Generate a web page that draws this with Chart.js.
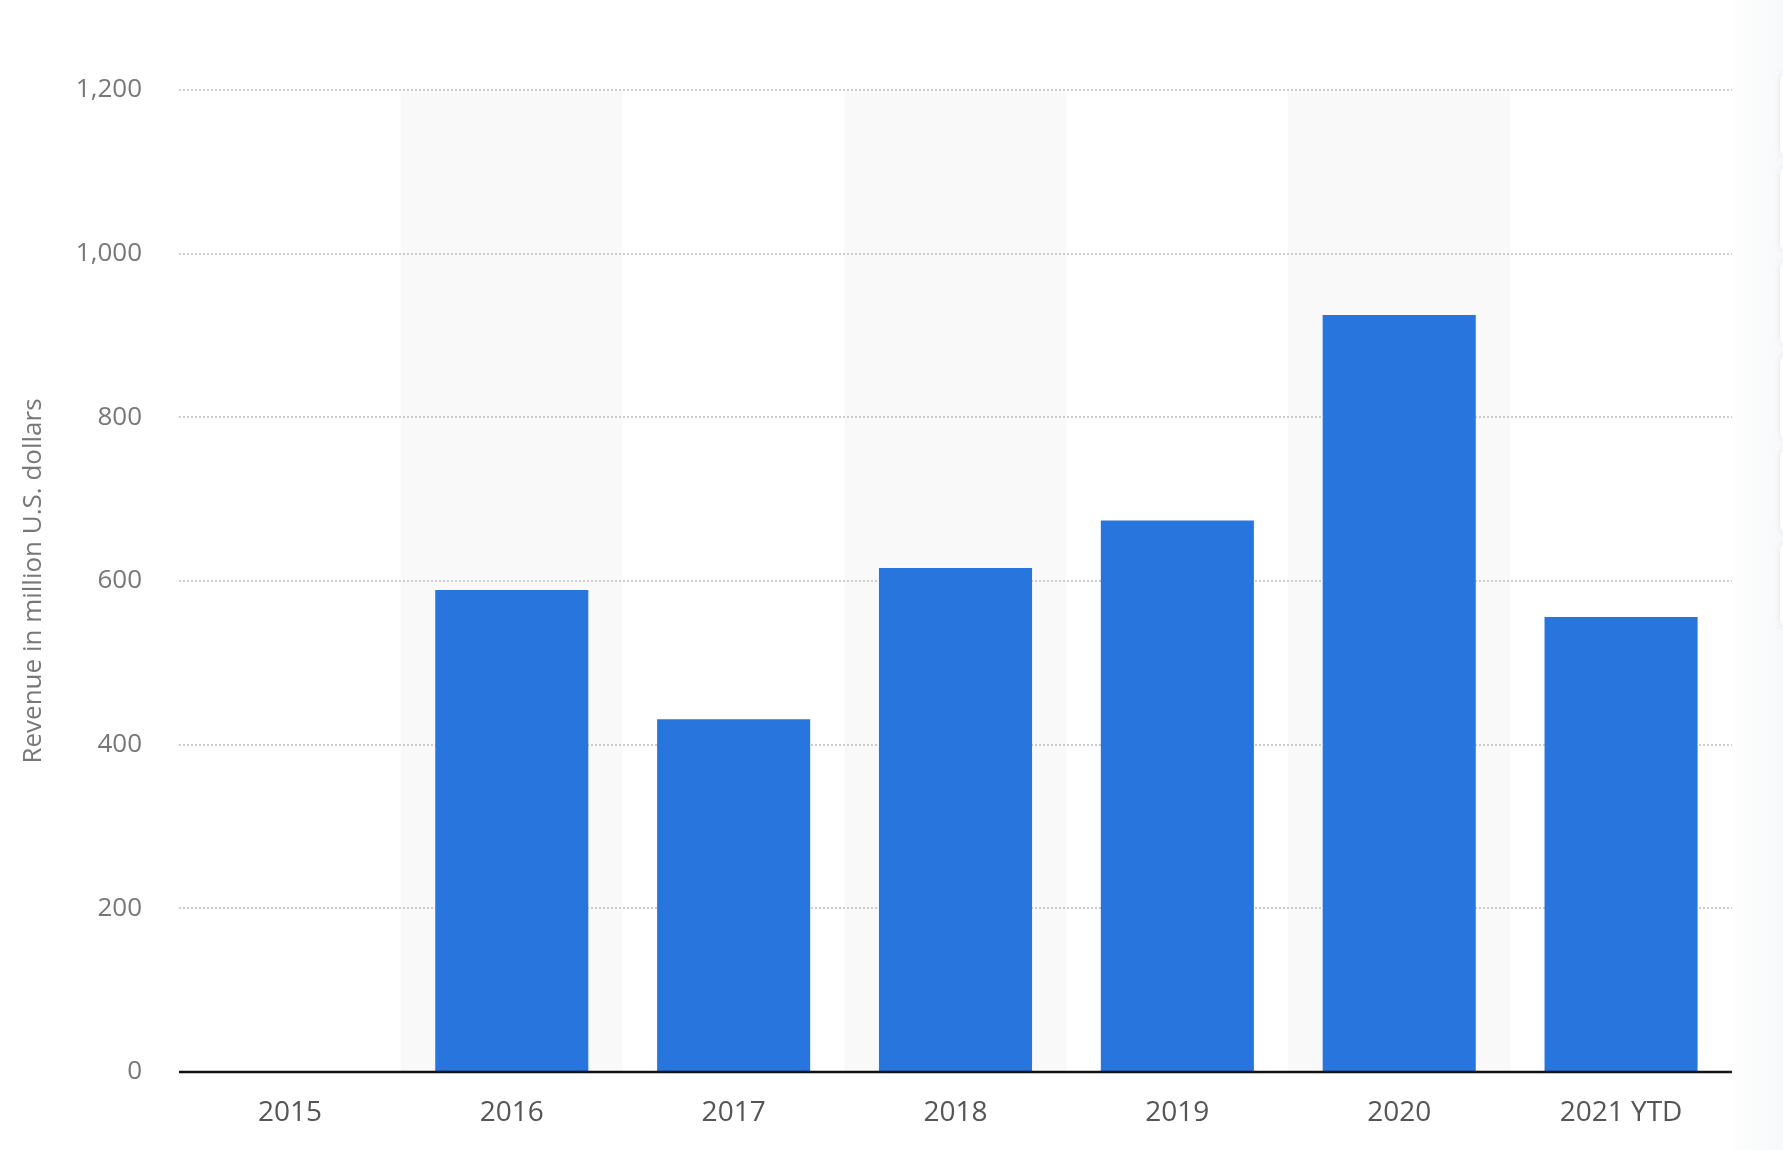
<!DOCTYPE html>
<html>
<head>
<meta charset="utf-8">
<script src="https://cdn.jsdelivr.net/npm/chart.js@4"></script>
<style>
  html, body { margin: 0; padding: 0; background: #fff; }
  #wrap { position: relative; width: 1783px; height: 1150px; overflow: hidden; }
  #shade { position: absolute; left: 1722px; top: 0; width: 61px; height: 1150px;
           background: linear-gradient(to right, rgba(230,233,238,0) 0%, rgba(230,233,238,0.3) 100%); pointer-events: none; }
  .btn { position: absolute; left: 1779px; width: 30px; height: 84px; background: #fff;
         border: 1px solid #eceef1; border-radius: 8px; box-shadow: 0 0 6px rgba(0,0,0,0.05); }
</style>
</head>
<body>
<div id="wrap">
  <canvas id="c" width="1783" height="1150"></canvas>
  <div id="shade"></div>
  <div class="btn" style="top:72px"></div>
  <div class="btn" style="top:166px"></div>
  <div class="btn" style="top:260px"></div>
  <div class="btn" style="top:354px"></div>
  <div class="btn" style="top:448px"></div>
  <div class="btn" style="top:542px"></div>
</div>
<script>
const categories = ["2015", "2016", "2017", "2018", "2019", "2020", "2021 YTD"];
const revenue = [0, 589, 431, 616, 674, 925, 556];
const yTicks = [0, 200, 400, 600, 800, 1000, 1200];
const yTitle = "Revenue in million U.S. dollars";

const bandPlugin = {
  id: 'bands',
  beforeDatasetsDraw(chart) {
    const { ctx, chartArea, scales } = chart;
    const x = scales.x, y = scales.y;
    const top = y.getPixelForValue(yTicks[yTicks.length - 1]);
    const bottom = y.getPixelForValue(0);
    const w = (chartArea.right - chartArea.left) / categories.length;
    ctx.save();
    ctx.fillStyle = '#f9f9f9';
    categories.forEach((c, i) => {
      if (i % 2 === 1) {
        const cx = x.getPixelForValue(i);
        ctx.fillRect(cx - w / 2, top + 1, w, bottom - top - 1);
      }
    });
    ctx.strokeStyle = '#cccccc';
    ctx.lineWidth = 2;
    ctx.setLineDash([2, 2]);
    yTicks.forEach(v => {
      if (v === 0) return;
      const py = Math.round(y.getPixelForValue(v));
      ctx.beginPath();
      ctx.moveTo(chartArea.left, py);
      ctx.lineTo(chartArea.right, py);
      ctx.stroke();
    });
    ctx.restore();
  },
  afterDatasetsDraw(chart) {
    const { ctx, chartArea, scales } = chart;
    const py = scales.y.getPixelForValue(0);
    ctx.save();
    ctx.strokeStyle = '#111';
    ctx.lineWidth = 2.5;
    ctx.beginPath();
    ctx.moveTo(chartArea.left, py);
    ctx.lineTo(chartArea.right, py);
    ctx.stroke();
    ctx.restore();
  }
};

new Chart(document.getElementById('c'), {
  type: 'bar',
  data: {
    labels: categories,
    datasets: [{
      data: revenue,
      backgroundColor: '#2876dd',
      borderWidth: 0,
      barPercentage: 0.69,
      categoryPercentage: 1.0
    }]
  },
  options: {
    responsive: false,
    animation: false,
    devicePixelRatio: 1,
    layout: { padding: { top: 90, right: 51, bottom: 0, left: 0 } },
    plugins: { legend: { display: false }, tooltip: { enabled: false } },
    scales: {
      x: {
        grid: { display: false, drawTicks: false },
        border: { display: false },
        ticks: {
          color: '#555',
          font: { family: 'Open Sans', size: 28 },
          padding: 24
        },
        afterFit(s) { s.height = 78; }
      },
      y: {
        min: 0, max: 1200,
        afterBuildTicks(s) { s.ticks = yTicks.map(v => ({ value: v })); },
        grid: { display: false, drawTicks: false },
        border: { display: false },
        ticks: {
          color: '#777',
          font: { family: 'Open Sans', size: 26 },
          padding: 37,
          callback: v => v.toLocaleString('en-US')
        },
        title: {
          display: true,
          text: yTitle,
          color: '#777',
          font: { family: 'Open Sans', size: 26 },
          padding: { top: 18, bottom: 0 }
        },
        afterFit(s) { s.width = 179; }
      }
    }
  },
  plugins: [bandPlugin]
});
</script>
</body>
</html>
